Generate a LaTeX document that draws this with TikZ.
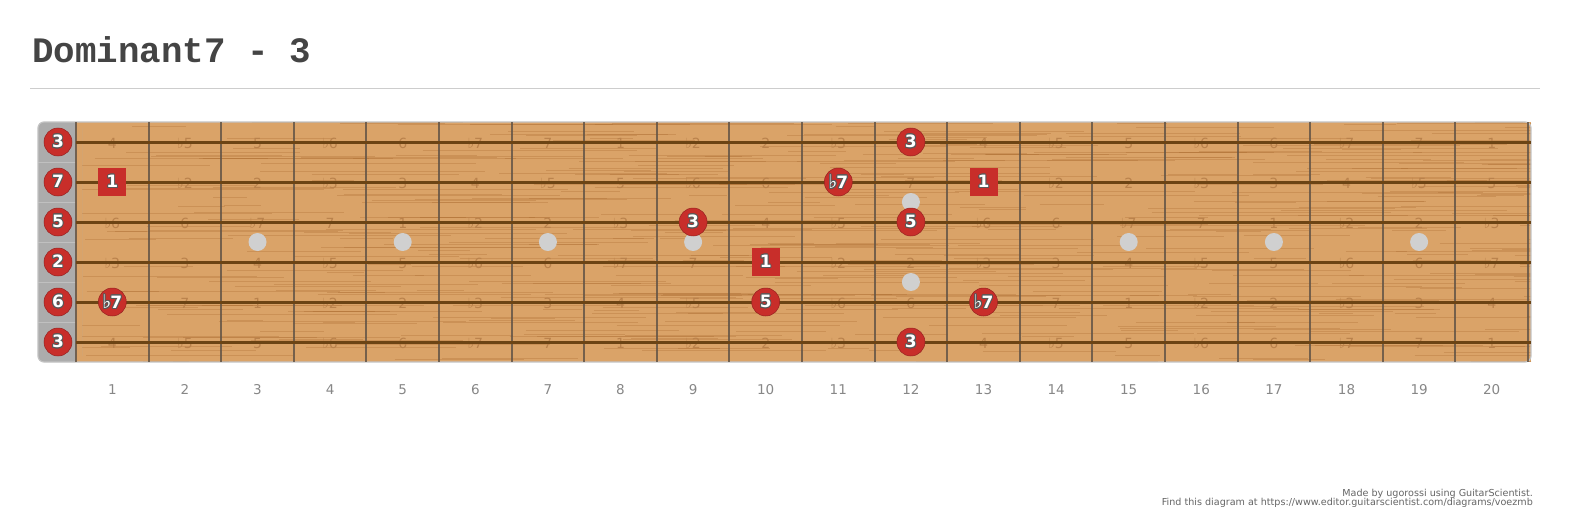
\documentclass[tikz,border=0pt]{standalone}
\usepackage{fontspec}
\setmainfont{DejaVu Sans}
\newfontfamily\titlefont{Liberation Mono}
\usepackage{contour}
\contourlength{0.9pt}
\definecolor{wood}{RGB}{218,163,104}
\definecolor{grainc}{RGB}{165,100,40}
\definecolor{fretc}{RGB}{100,85,70}
\definecolor{stringc}{RGB}{108,68,20}
\definecolor{nutc}{RGB}{172,172,172}
\definecolor{mkred}{RGB}{200,46,42}
\definecolor{faintc}{RGB}{186,130,76}
\definecolor{titlec}{RGB}{68,68,68}
\definecolor{numc}{RGB}{135,135,135}
\definecolor{inlayc}{RGB}{208,208,208}
\newcommand{\flt}{{\fontsize{19}{19}\selectfont ♭}}
\tikzset{
  fretline/.style={draw=fretc, line width=2pt, opacity=0.85},
  strline/.style={draw=stringc, line width=3pt},
  grain/.style={draw=grainc, line width=0.6pt, opacity=0.28},
  faint/.style={text=faintc, font=\fontsize{14}{14}\selectfont, inner sep=0pt},
  inlay/.style={circle, fill=inlayc, minimum size=18pt, inner sep=0pt},
  notemk/.style={circle, fill=mkred, draw=mkred!75!black, line width=0.5pt, minimum size=28pt, inner sep=0pt, text=white, font=\bfseries\fontsize{17}{17}\selectfont},
  rootmk/.style={rectangle, fill=mkred, minimum size=28pt, inner sep=0pt, text=white, font=\bfseries\fontsize{17}{17}\selectfont},
  fretnum/.style={text=numc, font=\fontsize{13.5}{13.5}\selectfont, anchor=base, inner sep=0pt},
  foot/.style={text=numc!75!black, font=\fontsize{9.6}{9.6}\selectfont, inner sep=0pt, anchor=base east}
}
\begin{document}
\begin{tikzpicture}[x=1pt,y=-1pt]
\useasboundingbox (0,0) rectangle (1573,519);
\fill[white] (0,0) rectangle (1573,519);
% title
\node[anchor=base west, inner sep=0pt, text=titlec, font=\titlefont\bfseries\fontsize{35.8}{35.8}\selectfont] (title) at (32,63) {Dominant7 - 3};
\draw[draw={rgb,255:red,205;green,205;blue,205}, line width=1pt] (30,88) -- (1540,88);
% board
\fill[wood] (76,122) rectangle (1531,362);
\begin{scope}
\clip (76,122) rectangle (1531,362);
\pgfmathsetseed{7}
\foreach \i in {1,...,480}{
  \pgfmathsetmacro{\yy}{122+240*rnd}
  \pgfmathsetmacro{\xx}{60+1470*rnd}
  \pgfmathsetmacro{\ll}{30+220*rnd}
  \draw[grain] (\xx,\yy) -- ++(\ll,0);
}
\end{scope}
% nut
\fill[nutc, rounded corners=6pt] (38,122) rectangle (82,362);
\fill[wood] (76,122) rectangle (82,362);
\foreach \y in {162,202,242,282,322}{
  \draw[draw=white, opacity=0.25, line width=0.5pt] (38,\y) -- (76,\y);
}
\draw[draw={rgb,255:red,195;green,195;blue,195}, line width=1.2pt, rounded corners=6pt] (38,122) rectangle (1531,362);
% faint interval labels (none under the markers)
\def\fx#1{76+72.6*#1-36.3}
\foreach \lab [count=\f] in {4,♭5,5,♭6,6,♭7,7,1,♭2,2,♭3,{},4,♭5,5,♭6,6,♭7,7,1}{
  \node[faint] at ({\fx{\f}},143) {\lab};
}
\foreach \lab [count=\f] in {4,♭5,5,♭6,6,♭7,7,1,♭2,2,♭3,{},4,♭5,5,♭6,6,♭7,7,1}{
  \node[faint] at ({\fx{\f}},343) {\lab};
}
\foreach \lab [count=\f] in {{},♭2,2,♭3,3,4,♭5,5,♭6,6,{},7,{},♭2,2,♭3,3,4,♭5,5}{
  \node[faint] at ({\fx{\f}},183) {\lab};
}
\foreach \lab [count=\f] in {♭6,6,♭7,7,1,♭2,2,♭3,{},4,♭5,{},♭6,6,♭7,7,1,♭2,2,♭3}{
  \node[faint] at ({\fx{\f}},223) {\lab};
}
\foreach \lab [count=\f] in {♭3,3,4,♭5,5,♭6,6,♭7,7,{},♭2,2,♭3,3,4,♭5,5,♭6,6,♭7}{
  \node[faint] at ({\fx{\f}},263) {\lab};
}
\foreach \lab [count=\f] in {{},7,1,♭2,2,♭3,3,4,♭5,{},♭6,6,{},7,1,♭2,2,♭3,3,4}{
  \node[faint] at ({\fx{\f}},303) {\lab};
}
% frets
\foreach \f in {0,...,20}{
  \draw[fretline] ({76+72.6*\f},122) -- ({76+72.6*\f},362);
}
% strings
\foreach \y in {142,182,222,262,302,342}{
  \draw[strline] (76,\y) -- (1531,\y);
}
% inlays
\foreach \f in {3,5,7,9,15,17,19}{
  \node[inlay] (in\f) at ({\fx{\f}},242) {};
}
\node[inlay] (in12a) at ({\fx{12}},202) {};
\node[inlay] (in12b) at ({\fx{12}},282) {};
% open strings
\node[notemk] (o1) at (58,142) {\contour{black!65}{3}};
\node[notemk] (o2) at (58,182) {\contour{black!65}{7}};
\node[notemk] (o3) at (58,222) {\contour{black!65}{5}};
\node[notemk] (o4) at (58,262) {\contour{black!65}{2}};
\node[notemk] (o5) at (58,302) {\contour{black!65}{6}};
\node[notemk] (o6) at (58,342) {\contour{black!65}{3}};
% fretted notes
\node[notemk] (n1a) at ({\fx{12}},142) {\contour{black!65}{3}};
\node[rootmk] (n2a) at ({\fx{1}},182) {\contour{black!65}{1}};
\node[notemk] (n2b) at ({\fx{11}},182) {\contour{black!65}{\flt\kern-1pt7}};
\node[rootmk] (n2c) at ({\fx{13}},182) {\contour{black!65}{1}};
\node[notemk] (n3a) at ({\fx{9}},222) {\contour{black!65}{3}};
\node[notemk] (n3b) at ({\fx{12}},222) {\contour{black!65}{5}};
\node[rootmk] (n4a) at ({\fx{10}},262) {\contour{black!65}{1}};
\node[notemk] (n5a) at ({\fx{1}},302) {\contour{black!65}{\flt\kern-1pt7}};
\node[notemk] (n5b) at ({\fx{10}},302) {\contour{black!65}{5}};
\node[notemk] (n5c) at ({\fx{13}},302) {\contour{black!65}{\flt\kern-1pt7}};
\node[notemk] (n6a) at ({\fx{12}},342) {\contour{black!65}{3}};
% fret numbers
\foreach \f in {1,...,20}{
  \node[fretnum] (fn\f) at ({\fx{\f}},394) {\f};
}
% footer
\node[foot] (foot1) at (1533,496) {Made by ugorossi using GuitarScientist.};
\node[foot] (foot2) at (1533,505) {Find this diagram at https://www.editor.guitarscientist.com/diagrams/voezmb};
\end{tikzpicture}
\end{document}
